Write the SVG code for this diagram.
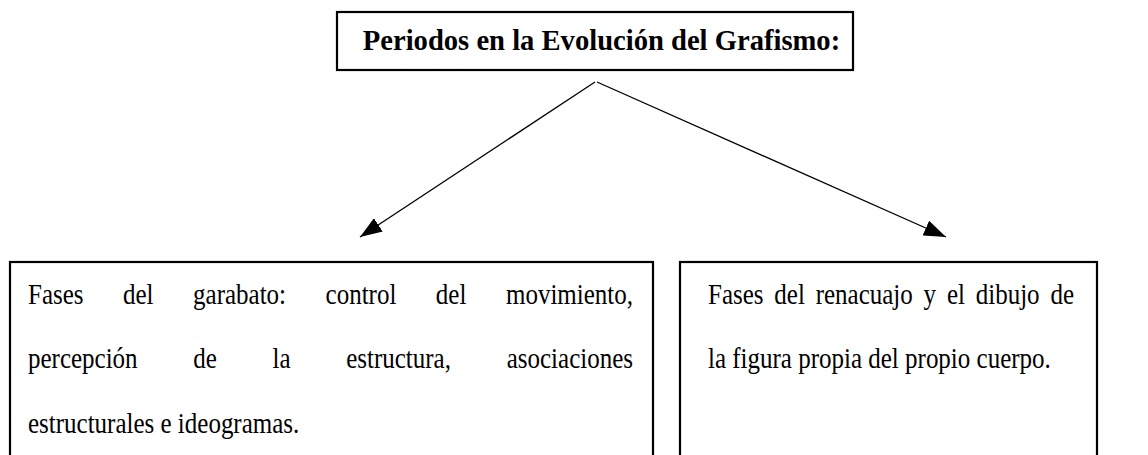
<svg xmlns="http://www.w3.org/2000/svg" width="1148" height="455" viewBox="0 0 1148 455">
<style>
.box{fill:#fff;stroke:#000;stroke-width:2.2}
.t{font-family:"Liberation Serif","Times New Roman",serif;font-size:29px;fill:#000}
.title{font-family:"Liberation Serif","Times New Roman",serif;font-size:28.6px;font-weight:bold;fill:#000}
.conn{stroke:#000;stroke-width:1.3;fill:none;marker-end:url(#ah)}
</style>
<defs>
<marker id="ah" markerUnits="userSpaceOnUse" markerWidth="24" markerHeight="16" refX="22" refY="8" orient="auto">
<path d="M0,0 L22,8 L0,16 Z" fill="#000"/>
</marker>
</defs>
<rect width="1148" height="455" fill="#fff"/>
<g id="connectors">
<line class="conn" x1="595" y1="82" x2="360" y2="237"/>
<line class="conn" x1="597" y1="82" x2="946" y2="237"/>
</g>
<g id="title-node">
<rect class="box" x="337" y="12" width="516" height="58" stroke-width="2.6"/>
<text class="title" x="601.5" y="50" text-anchor="middle">Periodos en la Evolución del Grafismo:</text>
</g>
<g id="garabato-node">
<rect class="box" x="10" y="262" width="643" height="200"/>
<g transform="scale(0.862069,1)">
<text class="t" y="304"><tspan x="32.48">Fases</tspan><tspan x="142.71">del</tspan><tspan x="223.95">garabato:</tspan><tspan x="377.66">control</tspan><tspan x="505.62">del</tspan></text>
<text class="t" x="734.28" y="304" text-anchor="end">movimiento,</text>
<text class="t" y="368.5"><tspan x="32.48">percepción</tspan><tspan x="224.23">de</tspan><tspan x="316.12">la</tspan><tspan x="401.58">estructura,</tspan></text>
<text class="t" x="734.28" y="368.5" text-anchor="end">asociaciones</text>
<text class="t" x="32.48" y="433">estructurales e ideogramas.</text>
</g>
</g>
<g id="renacuajo-node">
<rect class="box" x="680" y="262" width="417" height="200"/>
<g transform="scale(0.862069,1)">
<text class="t" y="304"><tspan x="821.28">Fases</tspan><tspan x="898.22">del</tspan><tspan x="946.17">renacuajo</tspan><tspan x="1071.4">y</tspan><tspan x="1098.4">el</tspan><tspan x="1131.85">dibujo</tspan></text>
<text class="t" x="1245.84" y="304" text-anchor="end">de</text>
<text class="t" x="821.28" y="368.5">la figura propia del propio cuerpo.</text>
</g>
</g>
</svg>
